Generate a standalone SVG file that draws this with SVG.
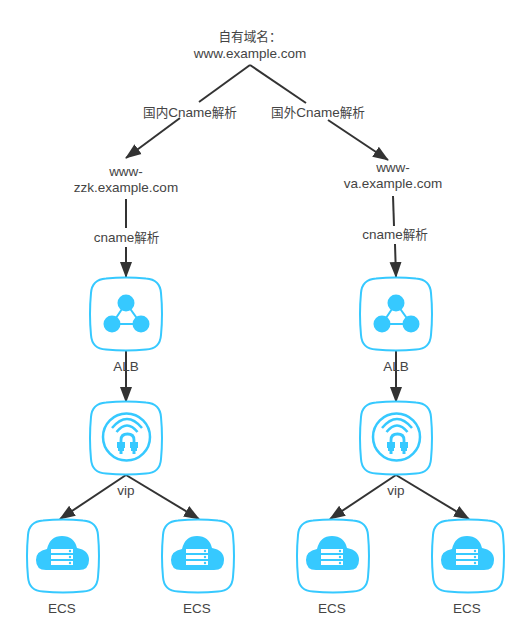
<svg xmlns="http://www.w3.org/2000/svg" width="530" height="631" viewBox="0 0 530 631">
<style>
text{font-family:"Liberation Sans","Noto Sans CJK SC",Arial,sans-serif;font-size:13.5px;fill:#444;text-anchor:middle}
tspan{font-size:12.6px}
.ln{fill:none;stroke:#333;stroke-width:2}
.fr{fill:#fff;stroke:#36c9ff;stroke-width:2}
.ic{fill:#36c9ff}
.is{fill:none;stroke:#36c9ff}
</style>
<defs>
<marker id="a" markerUnits="userSpaceOnUse" markerWidth="18" markerHeight="14" refX="15" refY="7" orient="auto"><path d="M0 1L16 7L0 13Z" fill="#333"/></marker>
<path id="f" class="fr" d="M16 0.500Q36 -1.500 56 0.500Q70 1.500 71 15Q73 36 71 57Q70 71 56 71.500Q36 73.500 16 71.500Q2 71 1 57Q-1 36 1 15Q2 1.500 16 0.500Z"/>
<g id="alb"><use href="#f"/><path class="is" stroke-width="2" d="M36 25L22 46H51Z"/><circle class="ic" cx="36" cy="25" r="8.500"/><circle class="ic" cx="22" cy="46" r="8.500"/><circle class="ic" cx="51" cy="46" r="8.500"/></g>
<g id="vip"><use href="#f"/><circle class="is" stroke-width="2.500" cx="36.500" cy="35" r="23.500"/><path class="is" stroke-width="2.500" d="M22 26Q37 8 52 26M26.500 30Q37 17 47.500 30"/><path class="is" stroke-width="2.800" d="M31 42V38Q31 32 37.500 32Q44 32 44 38V42"/><path class="ic" d="M27 40H35V46H34V49H32.500V52H29.500V49H28V46H27ZM40 40H48V46H47V49H45.500V52H42.500V49H41V46H40Z"/></g>
<g id="ecs"><use href="#f"/><path class="ic" d="M19 50Q9 50 9 40Q9 31 20 29Q23 16 35 16Q47 16 50 28Q62 30 62 40Q62 50 52 50Z"/><path fill="#fff" d="M24 29H46V33H24ZM24 35H46V39H24ZM24 41H46V45H24Z"/><circle class="ic" cx="43" cy="31" r="1.200"/><circle class="ic" cx="43" cy="37" r="1.200"/><circle class="ic" cx="43" cy="43" r="1.200"/></g>
</defs>
<g id="connectors">
<path class="ln" d="M250 65L199 102"/>
<path class="ln" d="M180 118L126 158" marker-end="url(#a)"/>
<path class="ln" d="M250 65L306 103"/>
<path class="ln" d="M328 120L388 160" marker-end="url(#a)"/>
<path class="ln" d="M126 199V228"/><path class="ln" d="M126 247V277" marker-end="url(#a)"/>
<path class="ln" d="M393 196L394 226"/><path class="ln" d="M395 244L396 277" marker-end="url(#a)"/>
<path class="ln" d="M126 350V402" marker-end="url(#a)"/>
<path class="ln" d="M396 350V402" marker-end="url(#a)"/>
<path class="ln" d="M126 475L60 519" marker-end="url(#a)"/>
<path class="ln" d="M126 475L199 519" marker-end="url(#a)"/>
<path class="ln" d="M396 475L330 519" marker-end="url(#a)"/>
<path class="ln" d="M396 475L469 519" marker-end="url(#a)"/>
</g>
<g id="domain"><text x="250" y="41"><tspan>自有域名：</tspan></text><text x="250" y="58">www.example.com</text></g>
<g id="label-cn"><text x="190" y="117"><tspan>国内</tspan>Cname<tspan>解析</tspan></text></g>
<g id="label-intl"><text x="318" y="117"><tspan>国外</tspan>Cname<tspan>解析</tspan></text></g>
<g id="zzk"><text x="126" y="176">www-</text><text x="126" y="192">zzk.example.com</text></g>
<g id="va"><text x="393" y="172">www-</text><text x="393" y="188">va.example.com</text></g>
<g id="label-c1"><text x="126.500" y="242">cname<tspan>解析</tspan></text></g>
<g id="label-c2"><text x="395" y="239">cname<tspan>解析</tspan></text></g>
<g id="alb1"><use href="#alb" x="90" y="278"/><text x="126" y="371">ALB</text></g>
<g id="alb2"><use href="#alb" x="360" y="278"/><text x="396" y="371">ALB</text></g>
<g id="vip1"><use href="#vip" x="90" y="402"/><text x="126" y="495">vip</text></g>
<g id="vip2"><use href="#vip" x="360" y="402"/><text x="396" y="495">vip</text></g>
<g id="ecs1"><use href="#ecs" x="27" y="520"/><text x="62" y="613">ECS</text></g>
<g id="ecs2"><use href="#ecs" x="162" y="520"/><text x="197" y="613">ECS</text></g>
<g id="ecs3"><use href="#ecs" x="297" y="520"/><text x="332" y="613">ECS</text></g>
<g id="ecs4"><use href="#ecs" x="432" y="520"/><text x="467" y="613">ECS</text></g>
</svg>
